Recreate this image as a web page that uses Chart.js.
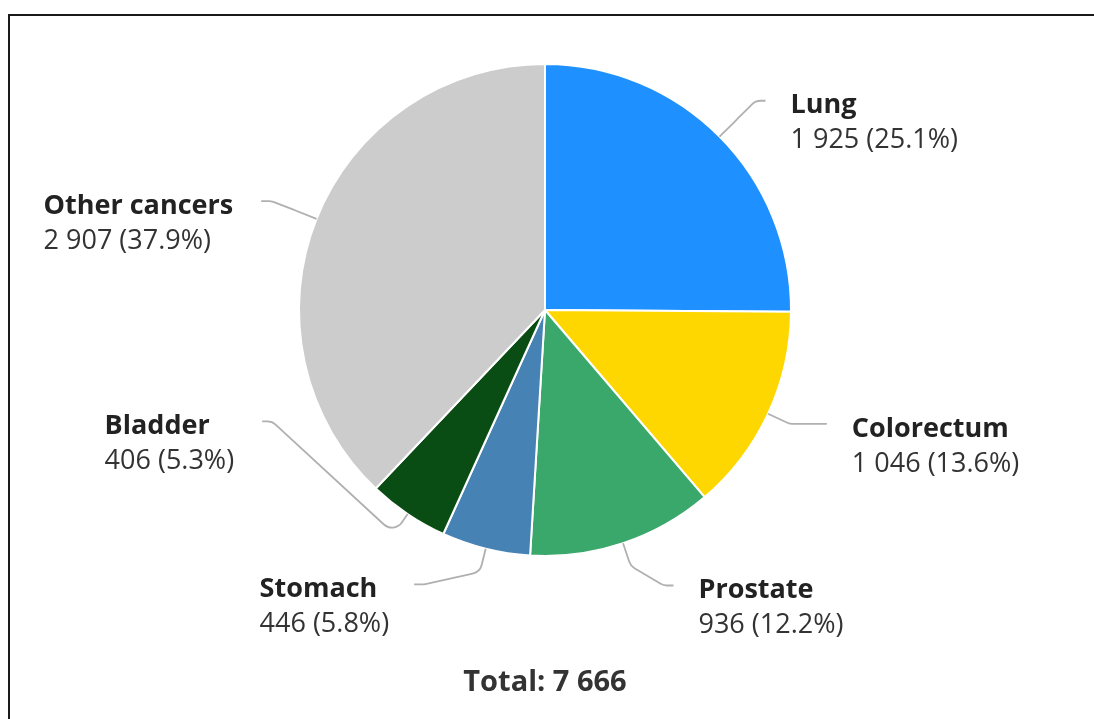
<!DOCTYPE html>
<html>
<head>
<meta charset="utf-8">
<script src="https://cdn.jsdelivr.net/npm/chart.js@4"></script>
<style>
  html, body { margin: 0; padding: 0; background: #fff; overflow: hidden; }
  #wrap { position: absolute; left: 0; top: 0; width: 1094px; height: 719px; }
</style>
</head>
<body>
<div id="wrap"><canvas id="chart"></canvas></div>
<script>
const sites = ['Lung', 'Colorectum', 'Prostate', 'Stomach', 'Bladder', 'Other cancers'];
const cases = [1925, 1046, 936, 446, 406, 2907];
const colours = ['#1e90ff', '#ffd700', '#3aa86b', '#4682b4', '#0a4d14', '#cccccc'];

function fmt(n){
  return String(n).replace(/\B(?=(\d{3})+(?!\d))/g, ' ');
}

// the screenshot's black frame (only left and top edges are visible)
const frame = {
  id: 'frame',
  beforeDraw(chart){
    const c = chart.ctx;
    c.save();
    c.strokeStyle = '#1a1a1a';
    c.lineWidth = 2;
    c.beginPath();
    c.moveTo(9, chart.height);
    c.lineTo(9, 15);
    c.lineTo(chart.width, 15);
    c.stroke();
    c.restore();
  }
};

// leader lines + labels, roughly the way the original lays them out
const pieLabels = {
  id: 'pieLabels',
  afterDraw(chart, args, opts){
    const ctx = chart.ctx;
    const meta = chart.getDatasetMeta(0);
    const values = chart.data.datasets[0].data;
    const total = values.reduce((a, b) => a + b, 0);
    const font = '"Open Sans", "Noto Sans", sans-serif';
    ctx.save();
    meta.data.forEach((arc, i) => {
      const p = arc.getProps(['x', 'y', 'startAngle', 'endAngle', 'outerRadius'], true);
      const mid = (p.startAngle + p.endAngle) / 2;
      const R = p.outerRadius;
      const edge = [p.x + R * Math.cos(mid), p.y + R * Math.sin(mid)];
      const brk = [p.x + (R + opts.breakAt) * Math.cos(mid), p.y + (R + opts.breakAt) * Math.sin(mid)];
      const la = (opts.labelAngles[i] - 90) * Math.PI / 180;
      const end = [p.x + (R + opts.labelPad) * Math.cos(la), p.y + (R + opts.labelPad) * Math.sin(la)];
      const side = end[0] >= p.x ? 1 : -1;
      const crook = [end[0] - side * opts.crook, end[1]];

      ctx.strokeStyle = '#b0b0b0';
      ctx.lineWidth = 1.8;
      ctx.beginPath();
      ctx.moveTo(edge[0], edge[1]);
      ctx.arcTo(brk[0], brk[1], crook[0], crook[1], 12);
      ctx.arcTo(crook[0], crook[1], end[0], end[1], 12);
      ctx.lineTo(end[0], end[1]);
      ctx.stroke();

      const name = chart.data.labels[i];
      const val = fmt(values[i]) + ' (' + (values[i] / total * 100).toFixed(1) + '%)';
      ctx.font = 'bold ' + opts.size + 'px ' + font;
      const w1 = ctx.measureText(name).width;
      ctx.font = opts.size + 'px ' + font;
      const w2 = ctx.measureText(val).width;
      const bw = Math.max(w1, w2);
      const gap = opts.gaps[i];
      const tx = side > 0 ? end[0] + gap : end[0] - gap - bw;
      const ty = end[1] + 5;
      ctx.textAlign = 'left';
      ctx.textBaseline = 'middle';
      ctx.fillStyle = '#222';
      ctx.font = 'bold ' + opts.size + 'px ' + font;
      ctx.fillText(name, tx, ty);
      ctx.fillStyle = '#333';
      ctx.font = opts.size + 'px ' + font;
      ctx.fillText(val, tx, ty + opts.lineGap);
    });

    ctx.font = 'bold ' + opts.totalSize + 'px ' + font;
    ctx.fillStyle = '#333';
    ctx.textAlign = 'center';
    ctx.textBaseline = 'middle';
    ctx.fillText('Total: ' + fmt(total), meta.data[0].x, opts.totalY);
    ctx.restore();
  }
};

const ctx = document.getElementById('chart').getContext('2d');
const myChart = new Chart(ctx, {
  type: 'pie',
  data: {
    labels: sites,
    datasets: [{
      data: cases,
      backgroundColor: colours,
      borderColor: '#ffffff',
      borderWidth: 2,
      hoverOffset: 0
    }]
  },
  options: {
    responsive: true,
    maintainAspectRatio: false,
    animation: false,
    layout: { padding: { left: 298, right: 302, top: 63, bottom: 162 } },
    plugins: {
      legend: { display: false },
      tooltip: { enabled: false },
      pieLabels: {
        labelAngles: [46.5, 112, 155, 205.5, 248.5, 291],
        gaps: [25, 25, 25, 25, 28, 28],
        labelPad: 58,
        breakAt: 24,
        crook: 10,
        size: 27,
        lineGap: 35,
        totalSize: 29,
        totalY: 683
      }
    }
  },
  plugins: [frame, pieLabels]
});
</script>
</body>
</html>
